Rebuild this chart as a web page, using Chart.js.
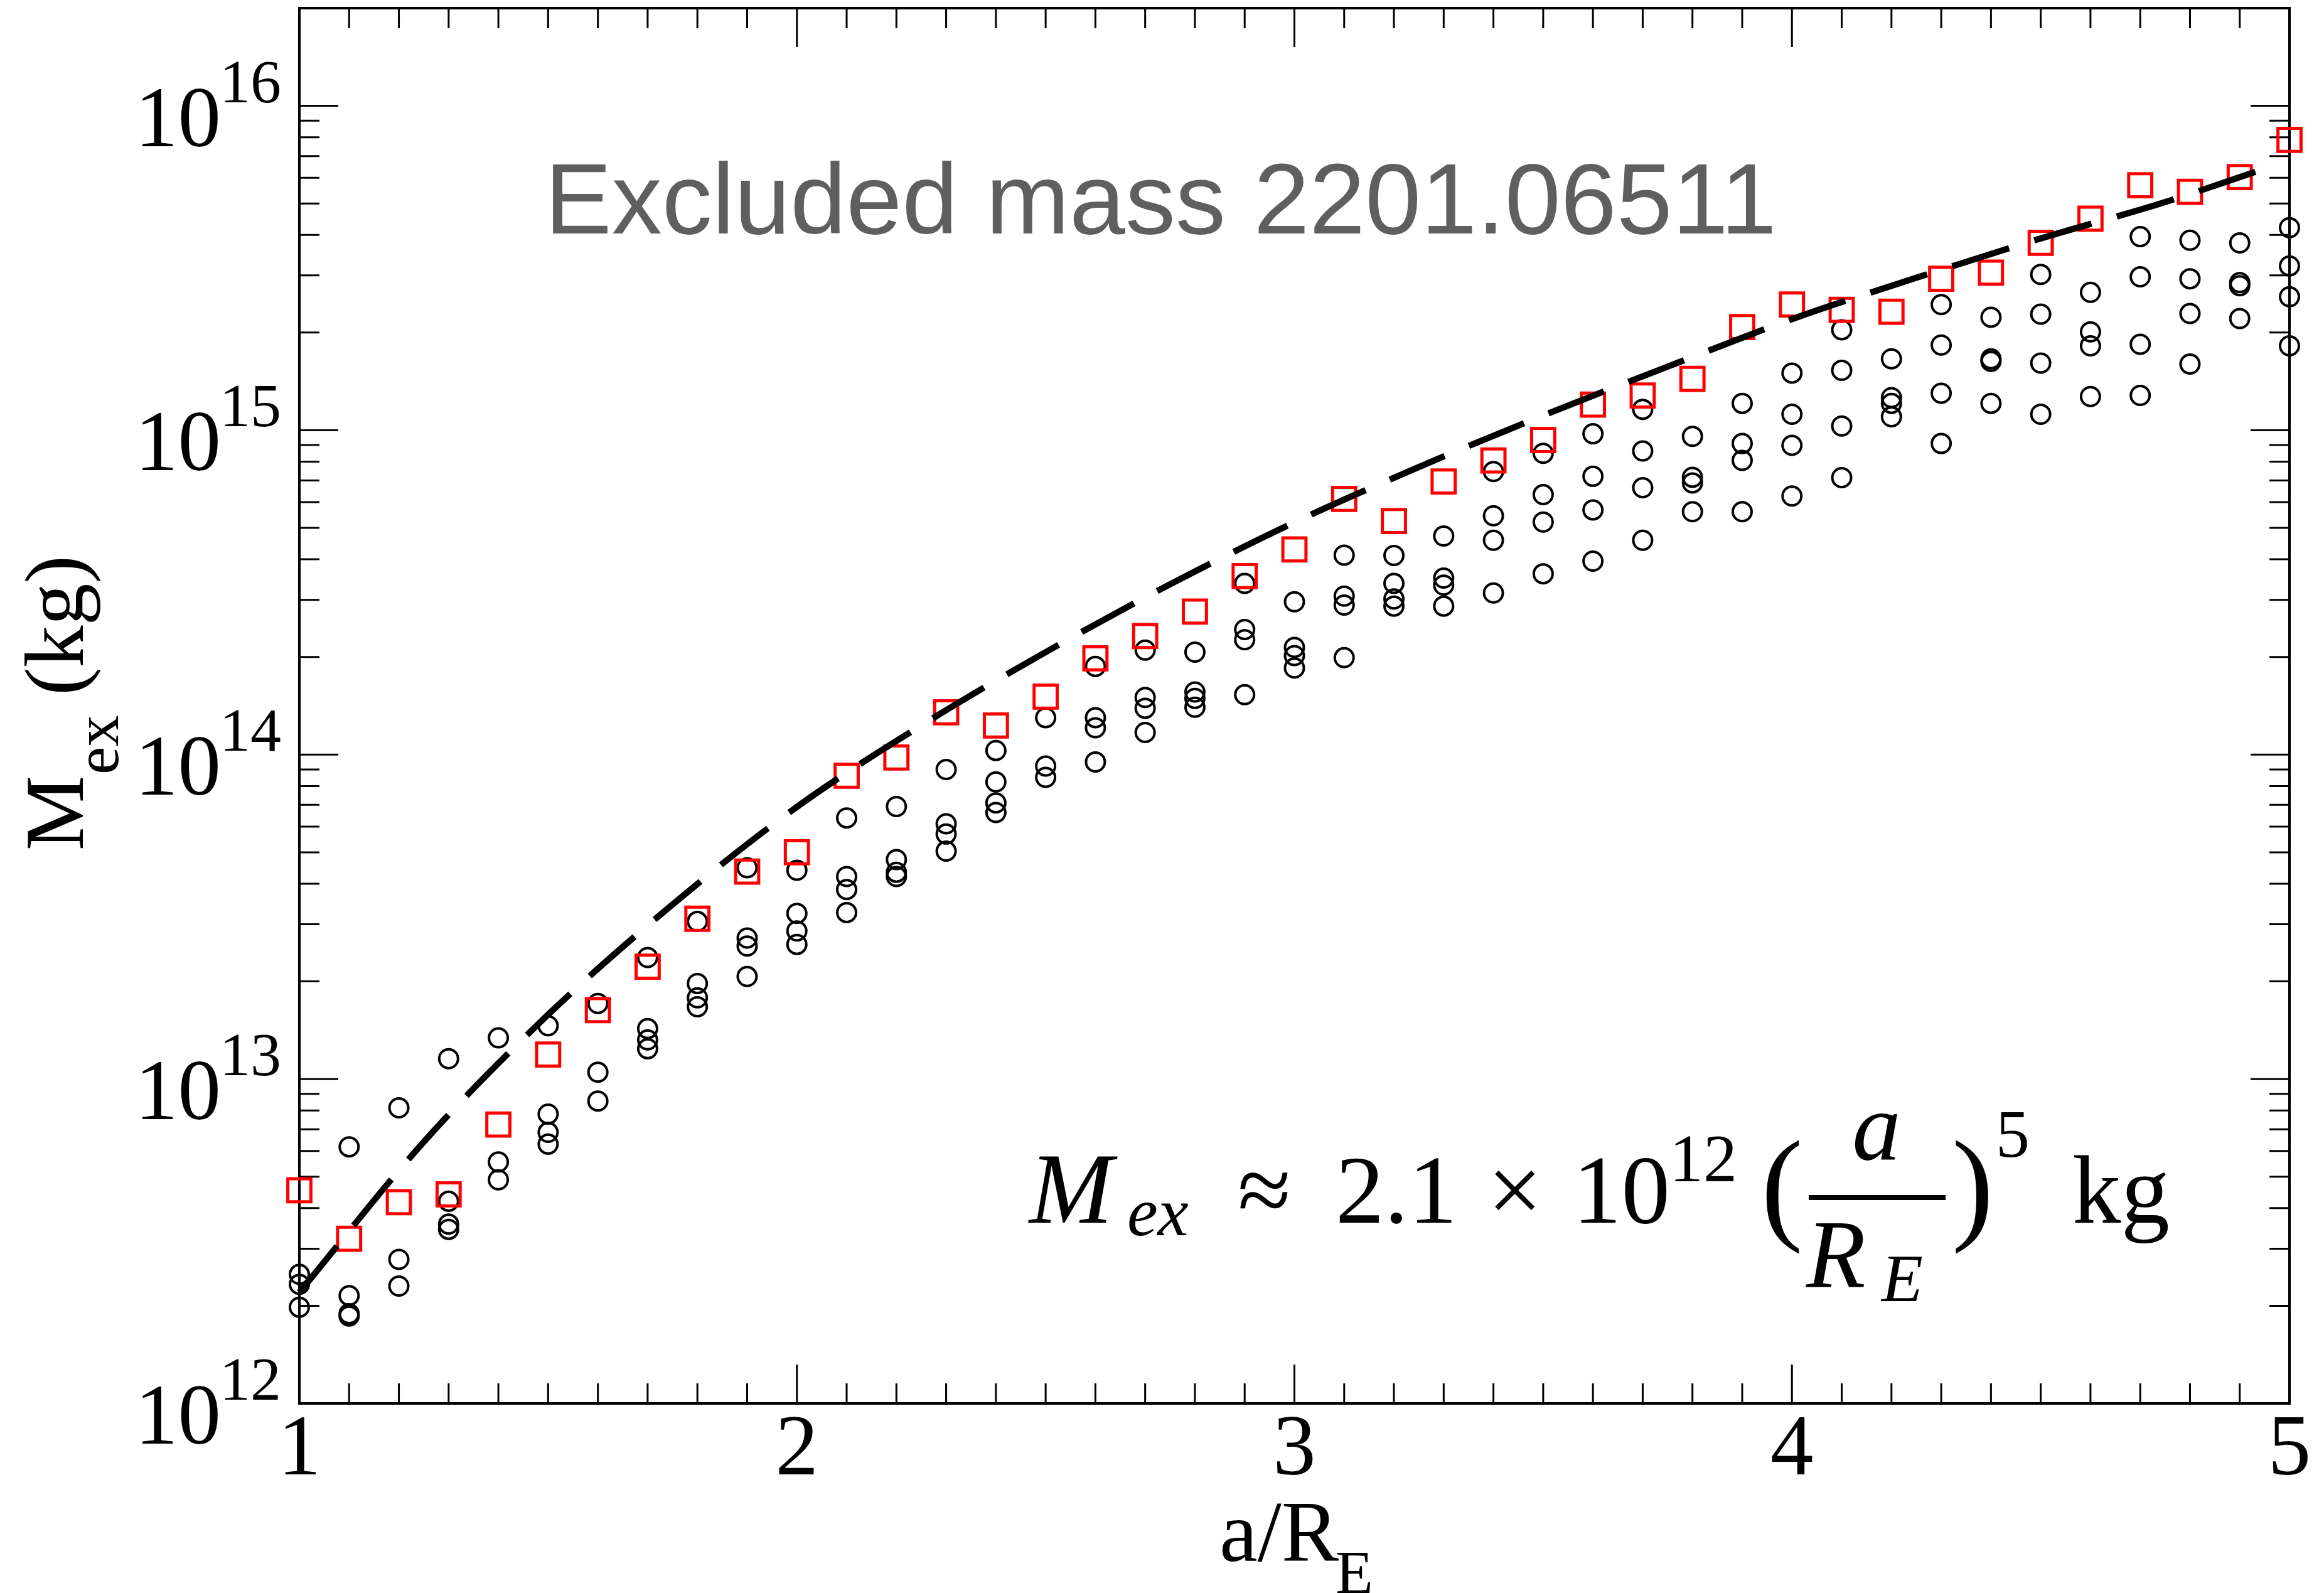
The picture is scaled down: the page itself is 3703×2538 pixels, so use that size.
<!DOCTYPE html>
<html>
<head>
<meta charset="utf-8">
<title>Excluded mass</title>
<script src="https://cdn.jsdelivr.net/npm/chart.js@4.4.1/dist/chart.umd.min.js"></script>
<style>
    html, body { margin: 0; padding: 0; background: #fff; }
    #wrap { width: 3703px; height: 2538px; position: relative; }
</style>
</head>
<body>
<div id="wrap"><canvas id="myChart"></canvas></div>
<script>
// a / R_E positions (one column of points per value)
const aR = [1.0, 1.1, 1.2, 1.3, 1.4, 1.5, 1.6, 1.7, 1.8, 1.9,
            2.0, 2.1, 2.2, 2.3, 2.4, 2.5, 2.6, 2.7, 2.8, 2.9,
            3.0, 3.1, 3.2, 3.3, 3.4, 3.5, 3.6, 3.7, 3.8, 3.9,
            4.0, 4.1, 4.2, 4.3, 4.4, 4.5, 4.6, 4.7, 4.8, 4.9, 5.0]

// red squares
const mSquare = [4.54e12, 3.22e12, 4.17e12, 4.41e12, 7.24e12, 1.19e13, 1.63e13, 2.22e13, 3.12e13, 4.36e13,
                 5.0e13, 8.61e13, 9.8e13, 1.35e14, 1.23e14, 1.51e14, 1.98e14, 2.32e14, 2.76e14, 3.55e14,
                 4.29e14, 6.14e14, 5.25e14, 6.95e14, 8.07e14, 9.33e14, 1.2e15, 1.28e15, 1.44e15, 2.08e15,
                 2.44e15, 2.35e15, 2.32e15, 2.93e15, 3.06e15, 3.78e15, 4.49e15, 5.69e15, 5.43e15, 6.03e15, 7.85e15]

// black circles, four per column (null = no circle)
const mCircle1 = [2.5e12, 6.18e12, 8.15e12, 1.155e13, 1.34e13, 1.46e13, 1.71e13, 2.37e13, 3.06e13, 4.48e13,
                  4.4e13, 6.38e13, 6.92e13, 9.0e13, 1.03e14, 1.30e14, 1.87e14, 2.10e14, 2.07e14, 3.37e14,
                  2.96e14, 4.12e14, 4.11e14, 4.72e14, 7.46e14, 8.49e14, 9.75e14, 1.16e15, 9.57e14, 1.21e15,
                  1.50e15, 2.04e15, 1.66e15, 2.44e15, 2.23e15, 3.02e15, 2.66e15, 3.95e15, 3.85e15, 3.78e15, 4.21e15]
const mCircle2 = [2.33e12, 2.15e12, 2.78e12, 4.2e12, 5.55e12, 7.8e12, 1.05e13, 1.43e13, 1.97e13, 2.72e13,
                  3.24e13, 4.21e13, 4.75e13, 6.12e13, 8.24e13, 9.22e13, 1.30e14, 1.50e14, 1.56e14, 2.43e14,
                  2.14e14, 3.08e14, 3.37e14, 3.50e14, 5.45e14, 6.33e14, 7.21e14, 8.63e14, 7.16e14, 9.1e14,
                  1.12e15, 1.53e15, 1.26e15, 1.83e15, 1.66e15, 2.28e15, 2.01e15, 2.97e15, 2.93e15, 2.85e15, 3.21e15]
const mCircle3 = [1.98e12, 1.89e12, 2.30e12, 3.57e12, 4.89e12, 6.85e12, 8.55e12, 1.32e13, 1.78e13, 2.57e13,
                  2.86e13, 3.84e13, 4.34e13, 5.69e13, 7.1e13, 8.51e13, 1.21e14, 1.39e14, 1.49e14, 2.26e14,
                  2.02e14, 2.89e14, 3.02e14, 3.33e14, 4.58e14, 5.21e14, 5.68e14, 6.65e14, 6.88e14, 8.07e14,
                  8.98e14, 1.03e15, 1.21e15, 1.30e15, 1.63e15, 1.61e15, 1.82e15, 1.84e15, 2.29e15, 2.79e15, 2.58e15]
const mCircle4 = [null, 1.86e12, null, 3.44e12, null, 6.3e12, null, 1.24e13, 1.67e13, 2.07e13,
                  2.6e13, 3.26e13, 4.21e13, 5.04e13, 6.63e13, null, 9.49e13, 1.17e14, 1.40e14, 1.53e14,
                  1.85e14, 1.99e14, 2.87e14, 2.87e14, 3.15e14, 3.61e14, 3.95e14, 4.58e14, 5.61e14, 5.61e14,
                  6.27e14, 7.14e14, 1.10e15, 9.1e14, 1.21e15, 1.12e15, 1.27e15, 1.28e15, 1.60e15, 2.21e15, 1.82e15]

// dashed fit curve
const fitX = [1.0, 1.25, 1.5, 1.75, 2.0, 2.25, 2.5, 2.75, 3.0, 3.25, 3.5, 3.75, 4.0, 4.25, 4.5, 4.75, 4.95]
const fitM = [2.2e12, 6.4e12, 1.58e13, 3.45e13, 6.9e13, 1.23e14, 2.07e14, 3.35e14, 5.2e14, 7.7e14,
              1.11e15, 1.57e15, 2.2e15, 2.95e15, 3.9e15, 5.05e15, 6.4e15]

const xTicks = [1, 2, 3, 4, 5]
const yTickPowers = [12, 13, 14, 15, 16]

const serif = '"Liberation Serif", "Times New Roman", serif'

function points(values) {
    let out = []
    values.forEach((v, i) => {
        if (v !== null) out.push({ x: aR[i], y: v })
    })
    return out
}

function write(ctx, text, x, y, font, align) {
    ctx.font = font
    ctx.textAlign = align || 'left'
    ctx.textBaseline = 'alphabetic'
    ctx.fillText(text, x, y)
}

// frame with inward ticks on all four sides, and the extra texts
const frame = {
    id: 'frame',
    beforeDatasetsDraw(chart) {
        const ctx = chart.ctx
        const a = chart.chartArea
        const xs = chart.scales.x
        const ys = chart.scales.y
        ctx.save()
        ctx.strokeStyle = '#000'
        ctx.lineWidth = 3
        ctx.beginPath()
        for (let i = 10; i <= 50; i++) {
            let px = xs.getPixelForValue(i / 10)
            let len = i % 10 == 0 ? 62 : 32
            ctx.moveTo(px, a.bottom); ctx.lineTo(px, a.bottom - len)
            ctx.moveTo(px, a.top); ctx.lineTo(px, a.top + len)
        }
        for (let p = yTickPowers[0]; p <= yTickPowers[yTickPowers.length - 1]; p++) {
            for (let m = 1; m <= 9; m++) {
                let v = m * Math.pow(10, p)
                if (v >= ys.max) break
                let py = ys.getPixelForValue(v)
                let len = m == 1 ? 62 : 32
                ctx.moveTo(a.left, py); ctx.lineTo(a.left + len, py)
                ctx.moveTo(a.right, py); ctx.lineTo(a.right - len, py)
            }
        }
        ctx.stroke()
        ctx.lineWidth = 4
        ctx.strokeRect(a.left, a.top, a.right - a.left, a.bottom - a.top)
        ctx.restore()
    },
    afterDraw(chart) {
        const ctx = chart.ctx
        const ys = chart.scales.y
        ctx.save()
        ctx.fillStyle = '#000'

        // exponents of the y tick labels
        yTickPowers.forEach(p => {
            let py = ys.getPixelForValue(Math.pow(10, p))
            write(ctx, String(p), 350, py - 6, '98px ' + serif)
        })

        // x title: a/R_E
        write(ctx, 'a/R', 1943, 2487, '137px ' + serif)
        write(ctx, 'E', 2128, 2538, '98px ' + serif)

        // y title: M_ex (kg), rotated
        ctx.save()
        ctx.translate(132, 1355)
        ctx.rotate(-Math.PI / 2)
        write(ctx, 'M', 0, 0, '134px ' + serif)
        write(ctx, 'ex', 121, 56, '100px ' + serif)
        write(ctx, '(kg)', 247, 0, '134px ' + serif)
        ctx.restore()

        // label in the top
        ctx.fillStyle = '#5f5f5f'
        write(ctx, 'Excluded mass 2201.06511', 868, 372, '160px "Liberation Sans", Arial, sans-serif')

        // formula
        ctx.fillStyle = '#000'
        const it = s => 'italic ' + s + 'px ' + serif
        const up = s => s + 'px ' + serif
        write(ctx, 'M', 1640, 1948, it(160))
        write(ctx, 'ex', 1796, 1968, it(110))
        write(ctx, '\u2248', 1972, 1948, up(155))
        write(ctx, '2.1', 2128, 1948, up(155))
        write(ctx, '\u00d7', 2370, 1948, up(155))
        write(ctx, '10', 2506, 1948, up(155))
        write(ctx, '12', 2660, 1882, up(108))
        write(ctx, '(', 2806, 1955, up(200))
        write(ctx, 'a', 2990, 1847, it(155), 'center')
        ctx.fillRect(2882, 1904, 218, 8)
        write(ctx, 'R', 2878, 2050, it(155))
        write(ctx, 'E', 2998, 2073, it(108))
        write(ctx, ')', 3110, 1955, up(200))
        write(ctx, '5', 3180, 1843, up(108))
        write(ctx, 'kg', 3302, 1948, up(155))
        ctx.restore()
    }
}

const ctx = document.getElementById('myChart').getContext('2d')

const circleStyle = {
    pointStyle: 'circle',
    pointRadius: 15,
    borderWidth: 4,
    borderColor: '#000',
    backgroundColor: 'rgba(0,0,0,0)',
    showLine: false,
    clip: false,
    order: 2
}

const myChart = new Chart(ctx, {
    type: 'scatter',
    data: {
        datasets: [
            {
                label: 'fit',
                data: fitX.map((x, i) => ({ x: x, y: fitM[i] })),
                showLine: true,
                borderColor: '#000',
                borderWidth: 10,
                borderDash: [95, 42],
                pointRadius: 0,
                cubicInterpolationMode: 'monotone',
                fill: false,
                clip: false,
                order: 0
            },
            {
                label: 'squares',
                data: points(mSquare),
                pointStyle: 'rect',
                pointRadius: 26,
                borderWidth: 5,
                borderColor: '#ff0000',
                backgroundColor: 'rgba(0,0,0,0)',
                showLine: false,
                clip: false,
                order: 1
            },
            Object.assign({ label: 'c1', data: points(mCircle1) }, circleStyle),
            Object.assign({ label: 'c2', data: points(mCircle2) }, circleStyle),
            Object.assign({ label: 'c3', data: points(mCircle3) }, circleStyle),
            Object.assign({ label: 'c4', data: points(mCircle4) }, circleStyle)
        ]
    },
    options: {
        responsive: true,
        maintainAspectRatio: false,
        devicePixelRatio: 1,
        animation: false,
        events: [],
        layout: { autoPadding: false, padding: { left: 0, right: 55, top: 13, bottom: 0 } },
        plugins: {
            legend: { display: false },
            tooltip: { enabled: false }
        },
        scales: {
            x: {
                type: 'linear',
                min: 1,
                max: 5,
                grid: { display: false, drawTicks: false },
                border: { display: false },
                afterBuildTicks: s => { s.ticks = xTicks.map(v => ({ value: v })) },
                afterFit: s => {
                    s.height = 302
                    s.paddingLeft = 0; s.paddingRight = 0; s.paddingTop = 0; s.paddingBottom = 0
                },
                ticks: {
                    autoSkip: false,
                    maxRotation: 0,
                    padding: 9,
                    color: '#000',
                    font: { family: serif, size: 137, lineHeight: 1 },
                    callback: v => String(v)
                }
            },
            y: {
                type: 'logarithmic',
                min: 1e12,
                max: 2e16,
                grid: { display: false, drawTicks: false },
                border: { display: false },
                afterBuildTicks: s => { s.ticks = yTickPowers.map(p => ({ value: Math.pow(10, p) })) },
                afterFit: s => {
                    s.width = 477
                    s.paddingLeft = 0; s.paddingRight = 0; s.paddingTop = 0; s.paddingBottom = 0
                },
                ticks: {
                    autoSkip: false,
                    padding: 125,
                    labelOffset: 28,
                    color: '#000',
                    font: { family: serif, size: 137, lineHeight: 1 },
                    callback: () => '10'
                }
            }
        }
    },
    plugins: [frame]
})
</script>
</body>
</html>
